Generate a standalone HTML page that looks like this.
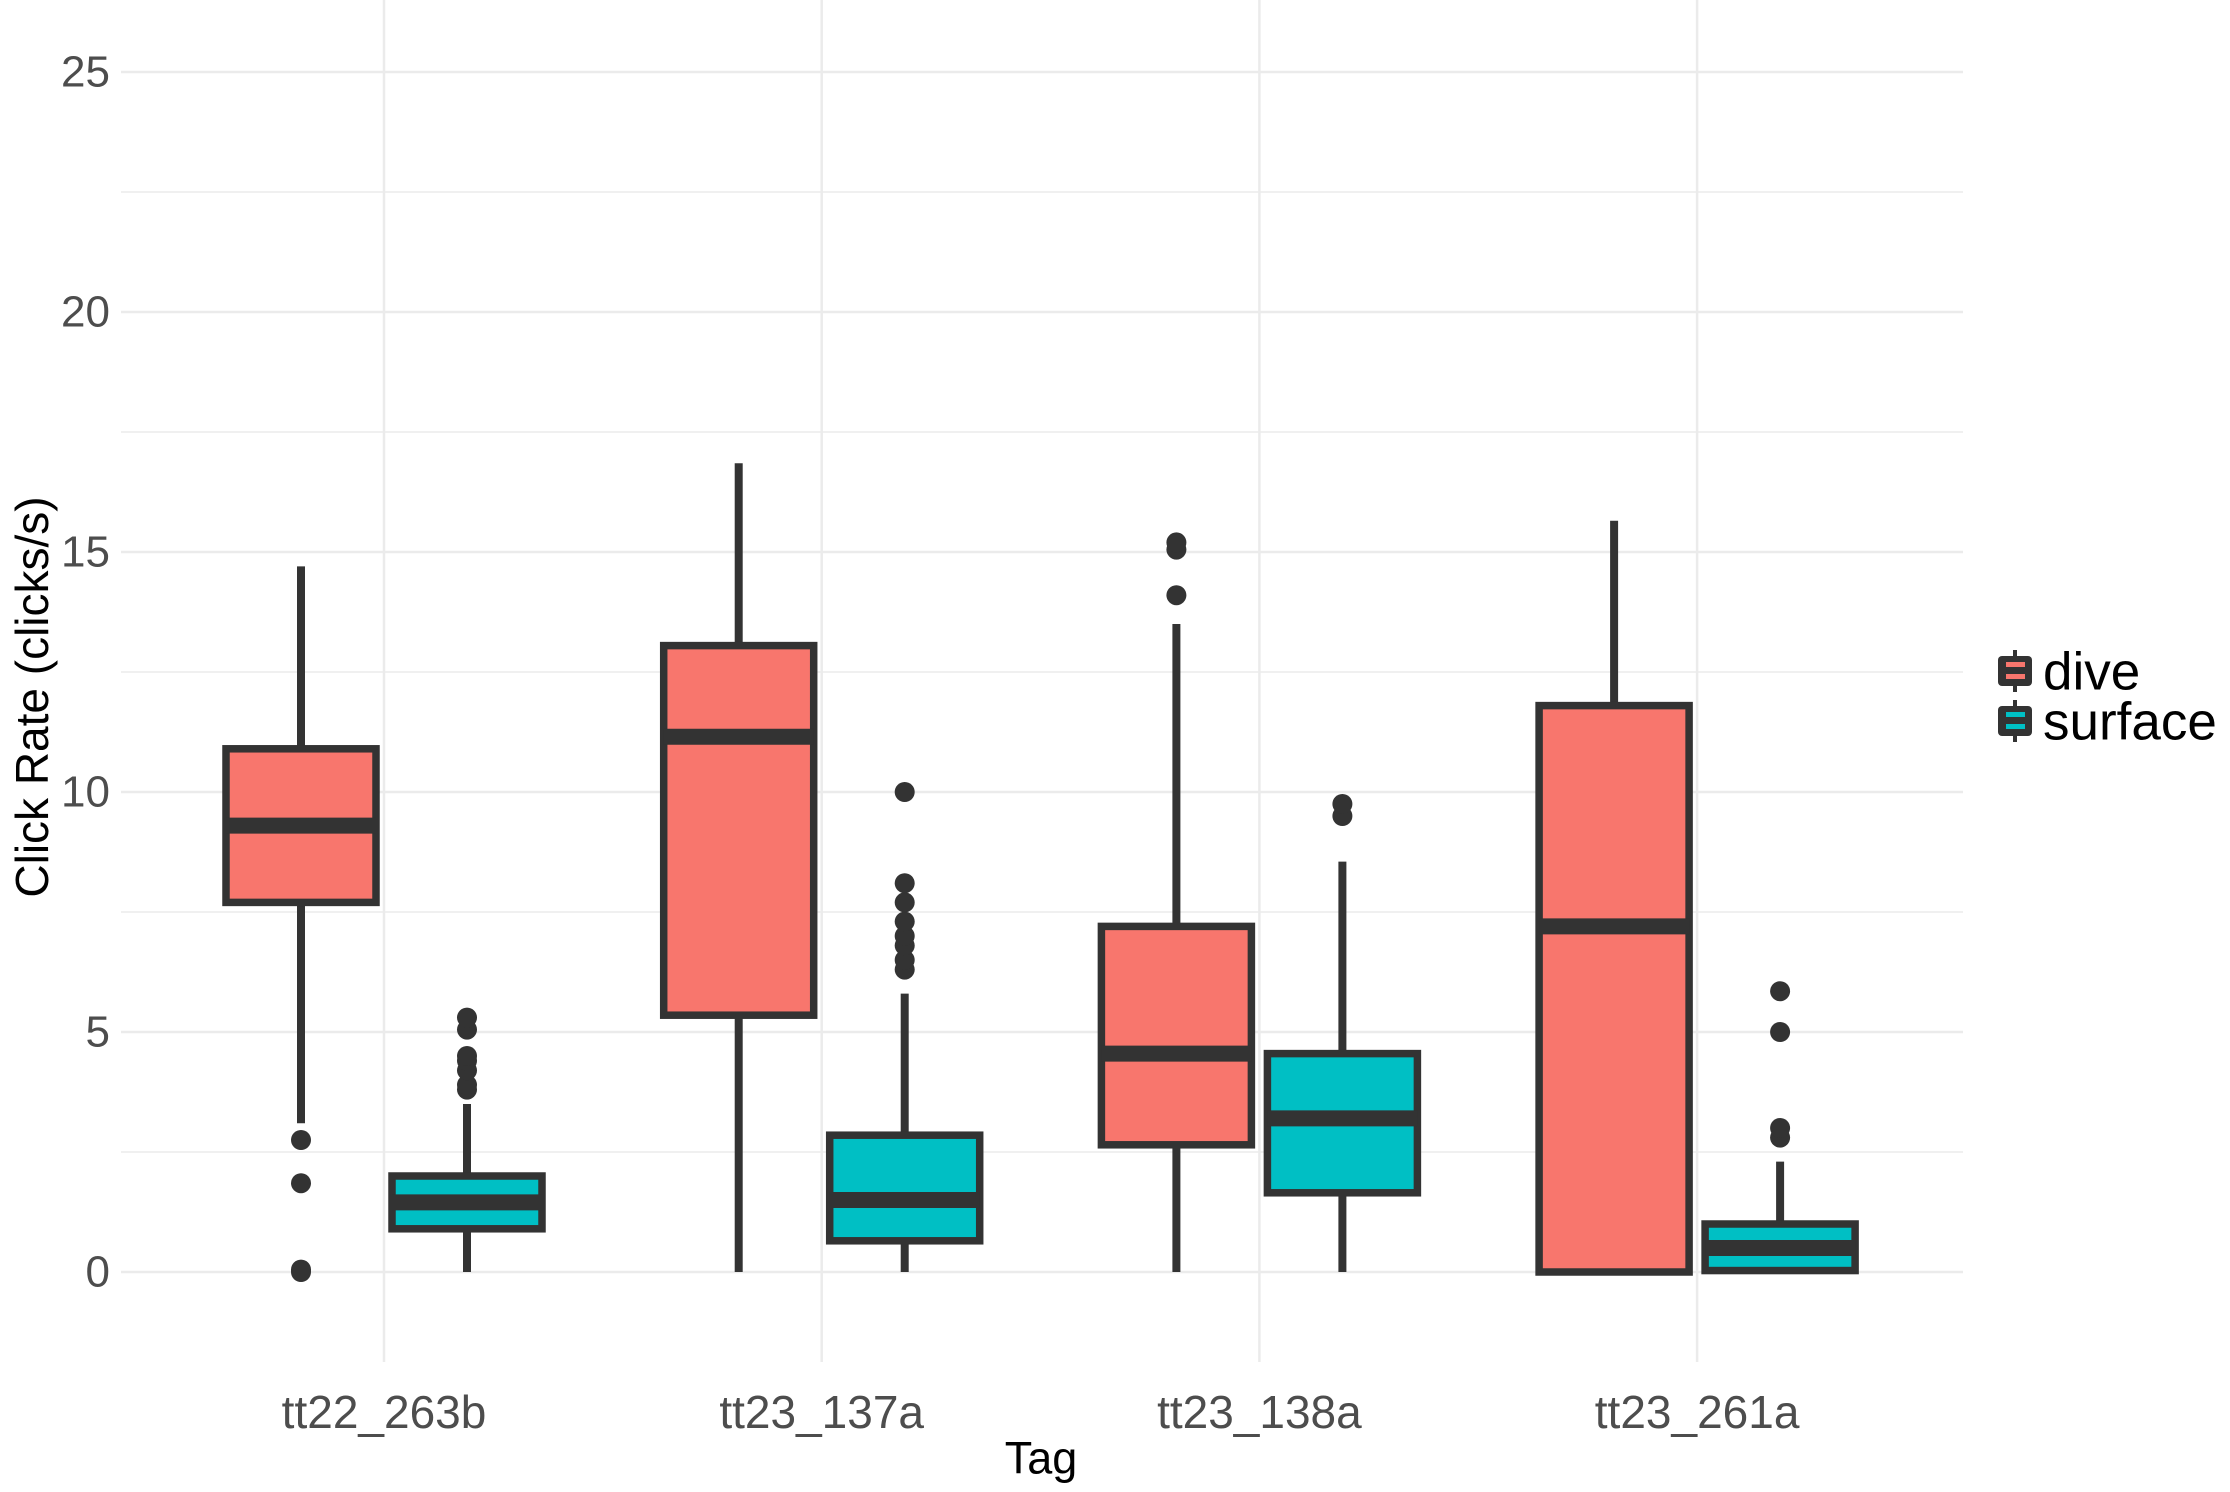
<!DOCTYPE html>
<html><head><meta charset="utf-8"><style>
html,body{margin:0;padding:0;background:#fff;}
svg{display:block;font-family:"Liberation Sans",Arial,sans-serif;}
</style></head><body>
<svg id="chart" width="2230" height="1492" viewBox="0 0 2230 1492">
<g id="grid"></g>
<g id="yticks"></g>
<g id="xticks"></g>
<g id="boxes"></g>
<text x="32" y="697" font-size="46" fill="#000" text-anchor="middle" transform="rotate(-90 32 697)" dominant-baseline="central">Click Rate (clicks/s)</text>
<text x="1041" y="1458" font-size="45" fill="#000" text-anchor="middle" dominant-baseline="central">Tag</text>
<g id="legend"></g>
</svg>
<script>
const categories = ["tt22_263b","tt23_137a","tt23_138a","tt23_261a"];
const groups = ["dive","surface"];
const groupColors = ["#F8766D","#00BFC4"];
// [lowerWhisker, q1, median, q3, upperWhisker]
const diveStats = [[3.1,7.7,9.3,10.9,14.7],[0,5.35,11.15,13.05,16.85],[0,2.65,4.55,7.2,13.5],[0,0,7.2,11.8,15.65]];
const surfaceStats = [[0,0.9,1.45,2.0,3.5],[0,0.65,1.5,2.85,5.8],[0,1.65,3.2,4.55,8.55],[0,0.03,0.5,1.0,2.3]];
const diveOutliers = [[2.75,1.85,0.05,0.0],[],[14.1,15.05,15.2],[]];
const surfaceOutliers = [[3.8,3.9,4.2,4.4,4.5,5.05,5.3],[6.3,6.5,6.8,7.0,7.3,7.7,8.1,10.0],[9.5,9.75],[2.8,3.0,5.0,5.85]];
const yTicks = [0,5,10,15,20,25];
const yMinor = [2.5,7.5,12.5,17.5,22.5];

const NS="http://www.w3.org/2000/svg";
const panelL=121, panelR=1963;
function y(v){return 1272 - v*48;}
function xCat(i){return 384 + i*437.7;}
const dodge=[-83,83], boxW=150;
function mk(tag,attrs,parent){const e=document.createElementNS(NS,tag);for(const k in attrs)e.setAttribute(k,attrs[k]);parent.appendChild(e);return e;}
const grid=document.getElementById('grid');
yMinor.forEach(v=>{const l=mk('line',{x1:panelL,x2:panelR,y1:y(v),y2:y(v),stroke:'#ebebeb','stroke-width':1.5},grid);

});
yTicks.forEach(v=>{const l=mk('line',{x1:panelL,x2:panelR,y1:y(v),y2:y(v),stroke:'#ebebeb','stroke-width':2.5},grid);

});
categories.forEach((c,i)=>{const l=mk('line',{x1:xCat(i),x2:xCat(i),y1:0,y2:1362,stroke:'#ebebeb','stroke-width':2.5},grid);

});
const yt=document.getElementById('yticks');
yTicks.forEach(v=>{const t=mk('text',{x:110,y:y(v),'font-size':44,fill:'#4d4d4d','text-anchor':'end','dominant-baseline':'central'},yt);t.textContent=v;

});
const xt=document.getElementById('xticks');
categories.forEach((c,i)=>{const t=mk('text',{x:xCat(i),y:1412,'font-size':46,fill:'#4d4d4d','text-anchor':'middle','dominant-baseline':'central'},xt);t.textContent=c;

});
const bx=document.getElementById('boxes');
const stats=[diveStats,surfaceStats], outs=[diveOutliers,surfaceOutliers];
categories.forEach((c,i)=>{
  groups.forEach((g,gi)=>{
    const s=stats[gi][i], cx=xCat(i)+dodge[gi];
    const grp=mk('g',{},bx);
    
    
    mk('line',{x1:cx,x2:cx,y1:y(s[0]),y2:y(s[1]),stroke:'#333','stroke-width':8},grp);
    mk('line',{x1:cx,x2:cx,y1:y(s[3]),y2:y(s[4]),stroke:'#333','stroke-width':8},grp);
    mk('rect',{x:cx-boxW/2,y:y(s[3]),width:boxW,height:Math.max(0,y(s[1])-y(s[3])),fill:groupColors[gi],stroke:'#333','stroke-width':7.5},grp);
    mk('line',{x1:cx-boxW/2,x2:cx+boxW/2,y1:y(s[2]),y2:y(s[2]),stroke:'#333','stroke-width':16},grp);
    outs[gi][i].forEach(v=>{const o=mk('circle',{cx:cx,cy:y(v),r:10,fill:'#333'},grp);
      
      });
  });
});
const lg=document.getElementById('legend');
groups.forEach((g,gi)=>{
  const top=650+gi*50;
  const e=mk('g',{},lg);
  
  
  mk('line',{x1:2015,x2:2015,y1:top,y2:top+42,stroke:'#333','stroke-width':4},e);
  mk('rect',{x:1998,y:top+6,width:34,height:30,rx:4,fill:'#333'},e);
  mk('rect',{x:2006,y:top+12,width:19,height:5,fill:groupColors[gi]},e);
  mk('rect',{x:2006,y:top+24,width:19,height:5,fill:groupColors[gi]},e);
  const t=mk('text',{x:2043,y:top+22,'font-size':53,fill:'#000','dominant-baseline':'central'},e);t.textContent=g;
});
</script>
</body></html>
